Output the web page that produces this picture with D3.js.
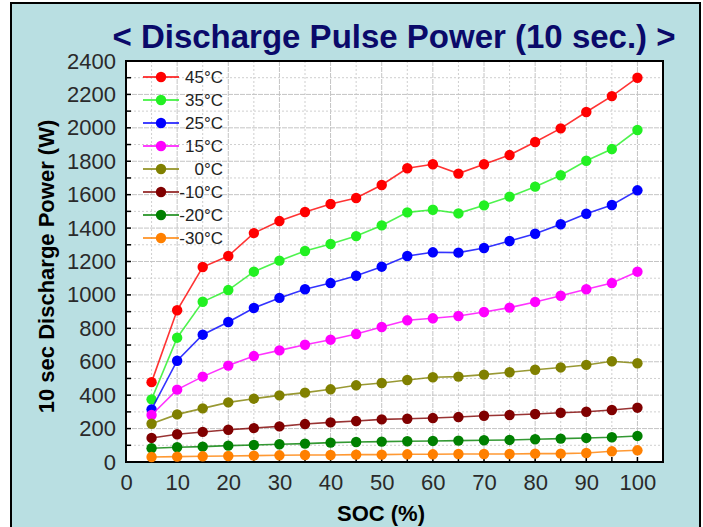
<!DOCTYPE html>
<html>
<head>
<meta charset="utf-8">
<script src="https://cdn.jsdelivr.net/npm/d3@7"></script>
<style>
  body { margin: 0; background: #fff; }
  svg { display: block; font-family: Arial, "Liberation Sans", sans-serif; }
</style>
</head>
<body>
<svg id="chart" width="703" height="527"></svg>
<script>
var soc = [5, 10, 15, 20, 25, 30, 35, 40, 45, 50, 55, 60, 65, 70, 75, 80, 85, 90, 95, 100];

var t45 = [478, 908, 1167, 1233, 1370, 1442, 1496, 1544, 1580, 1658, 1758, 1782, 1726, 1782, 1837, 1915, 1997, 2095, 2190, 2300];
var t35 = [375, 744, 959, 1029, 1139, 1205, 1263, 1305, 1352, 1416, 1494, 1510, 1488, 1536, 1588, 1648, 1716, 1803, 1873, 1987];
var t25 = [315, 606, 762, 838, 922, 982, 1034, 1071, 1115, 1169, 1233, 1255, 1253, 1281, 1323, 1366, 1423, 1486, 1538, 1626];
var t15 = [281, 433, 511, 577, 634, 668, 702, 732, 766, 808, 848, 860, 874, 898, 924, 958, 995, 1034, 1071, 1139];
var t0 = [229, 285, 321, 357, 379, 399, 415, 435, 459, 473, 491, 507, 511, 523, 537, 552, 566, 581, 603, 591];
var tm10 = [144, 166, 180, 193, 203, 213, 227, 237, 245, 255, 259, 263, 269, 277, 281, 287, 295, 301, 311, 325];
var tm20 = [82, 88, 92, 98, 102, 106, 110, 116, 120, 122, 124, 126, 128, 130, 132, 136, 140, 144, 148, 156];
var tm30 = [30, 32, 34, 36, 38, 40, 42, 42, 44, 44, 46, 46, 48, 48, 48, 50, 50, 54, 64, 70];

var seriesNames = ["45\u00b0C", "35\u00b0C", "25\u00b0C", "15\u00b0C", "0\u00b0C", "-10\u00b0C", "-20\u00b0C", "-30\u00b0C"];
var seriesColors = ["#ff0000", "#22f022", "#0000ff", "#ff00ff", "#808000", "#800000", "#008000", "#ff8000"];
var seriesValues = [t45, t35, t25, t15, t0, tm10, tm20, tm30];

var xTicks = [0, 10, 20, 30, 40, 50, 60, 70, 80, 90, 100];
var yTicks = [0, 200, 400, 600, 800, 1000, 1200, 1400, 1600, 1800, 2000, 2200, 2400];

var svg = d3.select("#chart");

// frame
svg.append("rect")
    .attr("x", 11).attr("y", 3)
    .attr("width", 689).attr("height", 530)
    .attr("fill", "#b9dfe2")
    .attr("stroke", "#000")
    .attr("stroke-width", 2);

var margin = {top: 61, left: 126, right: 40, bottom: 65};
var width = 663 - margin.left;
var height = 462 - margin.top;

var x = d3.scaleLinear().domain([0, 105]).range([0, width]);
var y = d3.scaleLinear().domain([0, 2400]).range([height, 0]);

var g = svg.append("g")
    .attr("transform", "translate(" + margin.left + "," + margin.top + ")");

g.append("rect")
    .attr("width", width).attr("height", height)
    .attr("fill", "#fff");

// grid
var xGrid = d3.range(5, 105, 5);
var yGrid = d3.range(100, 2400, 100);

g.selectAll(".vgrid").data(xGrid).enter().append("line")
    .attr("class", "vgrid")
    .attr("x1", function(d) { return x(d); })
    .attr("x2", function(d) { return x(d); })
    .attr("y1", 0).attr("y2", height)
    .attr("stroke", function(d) { return d % 10 == 0 ? "#c4c4c4" : "#cfcfcf"; })
    .attr("stroke-dasharray", function(d) { return d % 10 == 0 ? "5,1" : "2,2"; });

g.selectAll(".hgrid").data(yGrid).enter().append("line")
    .attr("class", "hgrid")
    .attr("y1", function(d) { return y(d); })
    .attr("y2", function(d) { return y(d); })
    .attr("x1", 0).attr("x2", width)
    .attr("stroke", function(d) { return d % 200 == 0 ? "#c4c4c4" : "#cfcfcf"; })
    .attr("stroke-dasharray", function(d) { return d % 200 == 0 ? "5,1" : "2,2"; });

// axes
var xAxis = d3.axisBottom(x).tickValues(xTicks).tickSize(0).tickPadding(12).tickFormat(d3.format("d"));
var yAxis = d3.axisLeft(y).tickValues(yTicks).tickSize(0).tickPadding(10).tickFormat(d3.format("d"));

var gx = g.append("g")
    .attr("transform", "translate(0," + height + ")")
    .call(xAxis);
var gy = g.append("g").call(yAxis);

[gx, gy].forEach(function(a) {
  a.select(".domain").remove();
  a.selectAll("text")
      .attr("font-size", "22px")
      .attr("font-family", "Arial, 'Liberation Sans', sans-serif")
      .attr("fill", "#2a2a2a");
});

// inward tick marks
g.selectAll(".xtick").data(soc).enter().append("line")
    .attr("x1", function(d) { return x(d); })
    .attr("x2", function(d) { return x(d); })
    .attr("y1", height).attr("y2", height - 5)
    .attr("stroke", "#000").attr("stroke-width", 1.5);

g.selectAll(".ytick").data(d3.range(100, 2400, 100)).enter().append("line")
    .attr("y1", function(d) { return y(d); })
    .attr("y2", function(d) { return y(d); })
    .attr("x1", 0).attr("x2", 5)
    .attr("stroke", "#000").attr("stroke-width", 1.5);

g.append("rect")
    .attr("width", width).attr("height", height)
    .attr("fill", "none")
    .attr("stroke", "#000")
    .attr("stroke-width", 2);

// series
var line = d3.line()
    .x(function(d, i) { return x(soc[i]); })
    .y(function(d) { return y(d); });

seriesValues.forEach(function(vals, k) {
  var col = seriesColors[k];
  g.append("path")
      .datum(vals)
      .attr("d", line)
      .attr("fill", "none")
      .attr("stroke", col)
      .attr("stroke-opacity", 0.8)
      .attr("stroke-width", 1.6);
  g.selectAll(".pt" + k).data(vals).enter().append("circle")
      .attr("cx", function(d, i) { return x(soc[i]); })
      .attr("cy", function(d) { return y(d); })
      .attr("r", 5.2)
      .attr("fill", col);
});

// legend
var legend = g.append("g").attr("transform", "translate(17,16)");
seriesNames.forEach(function(name, k) {
  var row = legend.append("g").attr("transform", "translate(0," + (k * 23) + ")");
  row.append("line")
      .attr("x1", 0).attr("x2", 36)
      .attr("stroke", seriesColors[k])
      .attr("stroke-width", 1.6);
  row.append("circle")
      .attr("cx", 18).attr("r", 5.2)
      .attr("fill", seriesColors[k]);
  row.append("text")
      .attr("x", 80).attr("y", 6)
      .attr("text-anchor", "end")
      .attr("font-size", "17px")
      .attr("fill", "#222")
      .text(name);
});

// titles
svg.append("text")
    .attr("x", 394).attr("y", 48)
    .attr("text-anchor", "middle")
    .attr("font-size", "33px")
    .attr("font-weight", "bold")
    .attr("fill", "#0a0a6a")
    .text("< Discharge Pulse Power (10 sec.) >");

svg.append("text")
    .attr("transform", "translate(54," + (margin.top + height / 2 + 5) + ") rotate(-90)")
    .attr("text-anchor", "middle")
    .attr("font-size", "22px")
    .attr("font-weight", "bold")
    .attr("fill", "#000")
    .text("10 sec Discharge Power (W)");

svg.append("text")
    .attr("x", 381).attr("y", 521)
    .attr("text-anchor", "middle")
    .attr("font-size", "22px")
    .attr("font-weight", "bold")
    .attr("fill", "#000")
    .text("SOC (%)");
</script>
</body>
</html>
